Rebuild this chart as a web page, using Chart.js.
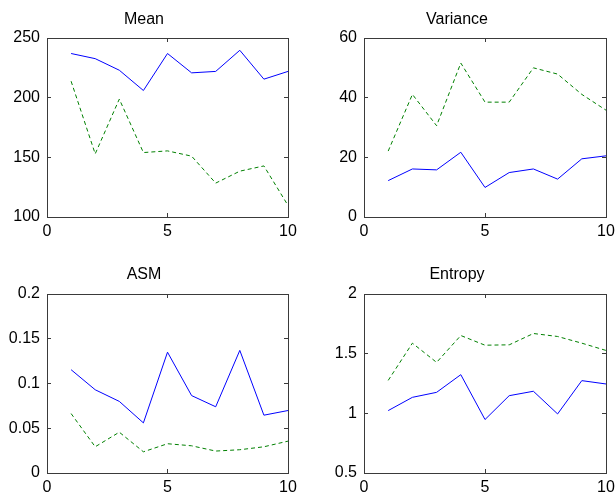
<!DOCTYPE html>
<html>
<head>
<meta charset="utf-8">
<script src="https://cdn.jsdelivr.net/npm/chart.js@4"></script>
<style>
  html, body { margin: 0; background: #fff; overflow: hidden; width: 616px; height: 495px; }
  .panel { position: absolute; }
</style>
</head>
<body>
<div class="panel" style="left:0;top:0;width:308px;height:248px"><canvas id="c1"></canvas></div>
<div class="panel" style="left:308px;top:0;width:318px;height:248px"><canvas id="c2"></canvas></div>
<div class="panel" style="left:0;top:248px;width:308px;height:247px"><canvas id="c3"></canvas></div>
<div class="panel" style="left:308px;top:248px;width:318px;height:247px"><canvas id="c4"></canvas></div>
<script>
// x positions (image index) and the values
const frames = [1, 2, 3, 4, 5, 6, 7, 8, 9, 10];
const xTicks = [0, 5, 10];

const meanBlue = [237, 232.7, 223, 206, 237, 220.8, 222, 239.7, 215.5, 222];
const meanGreen = [213.8, 152.9, 198.8, 154, 155.4, 151, 128.4, 138.4, 142.8, 109.7];

const varBlue = [12.2, 16.1, 15.8, 21.7, 9.9, 14.9, 16.1, 12.7, 19.5, 20.5];
const varGreen = [22.1, 41.1, 30.6, 51.6, 38.5, 38.5, 50, 47.9, 41.1, 35.8];

const asmBlue = [0.1154, 0.093, 0.080, 0.056, 0.135, 0.0865, 0.074, 0.137, 0.0646, 0.0698];
const asmGreen = [0.0664, 0.0293, 0.0456, 0.0237, 0.0327, 0.0304, 0.0245, 0.026, 0.0293, 0.0356];

const entBlue = [1.023, 1.134, 1.176, 1.324, 0.948, 1.148, 1.185, 0.995, 1.274, 1.246];
const entGreen = [1.276, 1.588, 1.427, 1.652, 1.571, 1.574, 1.669, 1.644, 1.588, 1.527];

Chart.defaults.font.family = "'Liberation Sans', Arial, sans-serif";
Chart.defaults.font.size = 16;
Chart.defaults.color = '#000';

const frameColor = '#3a3a3a';

// negative tick length -> matlab style tick marks pointing into the box
const boxGrid = { display: true, drawOnChartArea: false, drawTicks: true, tickLength: -4, color: frameColor };
const boxBorder = { display: true, color: frameColor, width: 1 };
const setXTicks = s => { s.ticks = xTicks.map(v => ({ value: v })); };

function makeChart(id, title, blue, green, yMin, yMax, yStep, opts) {
    const pts = vals => vals.map((v, i) => ({ x: frames[i], y: v }));
    return new Chart(document.getElementById(id), {
        type: 'line',
        data: {
            datasets: [
                { data: pts(blue), borderColor: '#0000ff', borderWidth: 1, pointRadius: 0, tension: 0 },
                { data: pts(green), borderColor: '#008000', borderWidth: 1, borderDash: [4, 3], pointRadius: 0, tension: 0 }
            ]
        },
        options: {
            responsive: true,
            maintainAspectRatio: false,
            animation: false,
            layout: { padding: { left: 0, right: 20, top: 0, bottom: 0 } },
            plugins: {
                legend: { display: false },
                tooltip: { enabled: false },
                title: {
                    display: true,
                    text: title,
                    font: { size: 16, weight: 'normal' },
                    color: '#000',
                    padding: { top: opts.titleTop, bottom: opts.titleBottom }
                }
            },
            scales: {
                x: {
                    type: 'linear', min: 0, max: 10,
                    afterBuildTicks: setXTicks,
                    grid: boxGrid, border: boxBorder,
                    ticks: { padding: 9, autoSkip: false, maxRotation: 0 },
                    afterFit: s => { s.height = opts.xh; }
                },
                y: {
                    min: yMin, max: yMax,
                    grid: boxGrid, border: boxBorder,
                    ticks: {
                        stepSize: yStep, padding: 11, autoSkip: false,
                        callback: v => String(+v.toFixed(4))
                    },
                    afterFit: s => { s.width = opts.yw; }
                },
                x2: {
                    type: 'linear', position: 'top', min: 0, max: 10,
                    afterBuildTicks: setXTicks,
                    grid: boxGrid, border: boxBorder,
                    ticks: { display: false },
                    afterFit: s => { s.height = 0; }
                },
                y2: {
                    type: 'linear', position: 'right', min: yMin, max: yMax,
                    grid: boxGrid, border: boxBorder,
                    ticks: { display: false, stepSize: yStep },
                    afterFit: s => { s.width = 0; }
                }
            }
        }
    });
}

const topOpts = { titleTop: 9.6, titleBottom: 9.2, xh: 31 };
const botOpts = { titleTop: 17, titleBottom: 9.8, xh: 22 };

makeChart('c1', 'Mean', meanBlue, meanGreen, 100, 250, 50, { ...topOpts, yw: 47 });
makeChart('c2', 'Variance', varBlue, varGreen, 0, 60, 20, { ...topOpts, yw: 56 });
makeChart('c3', 'ASM', asmBlue, asmGreen, 0, 0.2, 0.05, { ...botOpts, yw: 47 });
makeChart('c4', 'Entropy', entBlue, entGreen, 0.5, 2, 0.5, { ...botOpts, yw: 56 });
</script>
</body>
</html>
